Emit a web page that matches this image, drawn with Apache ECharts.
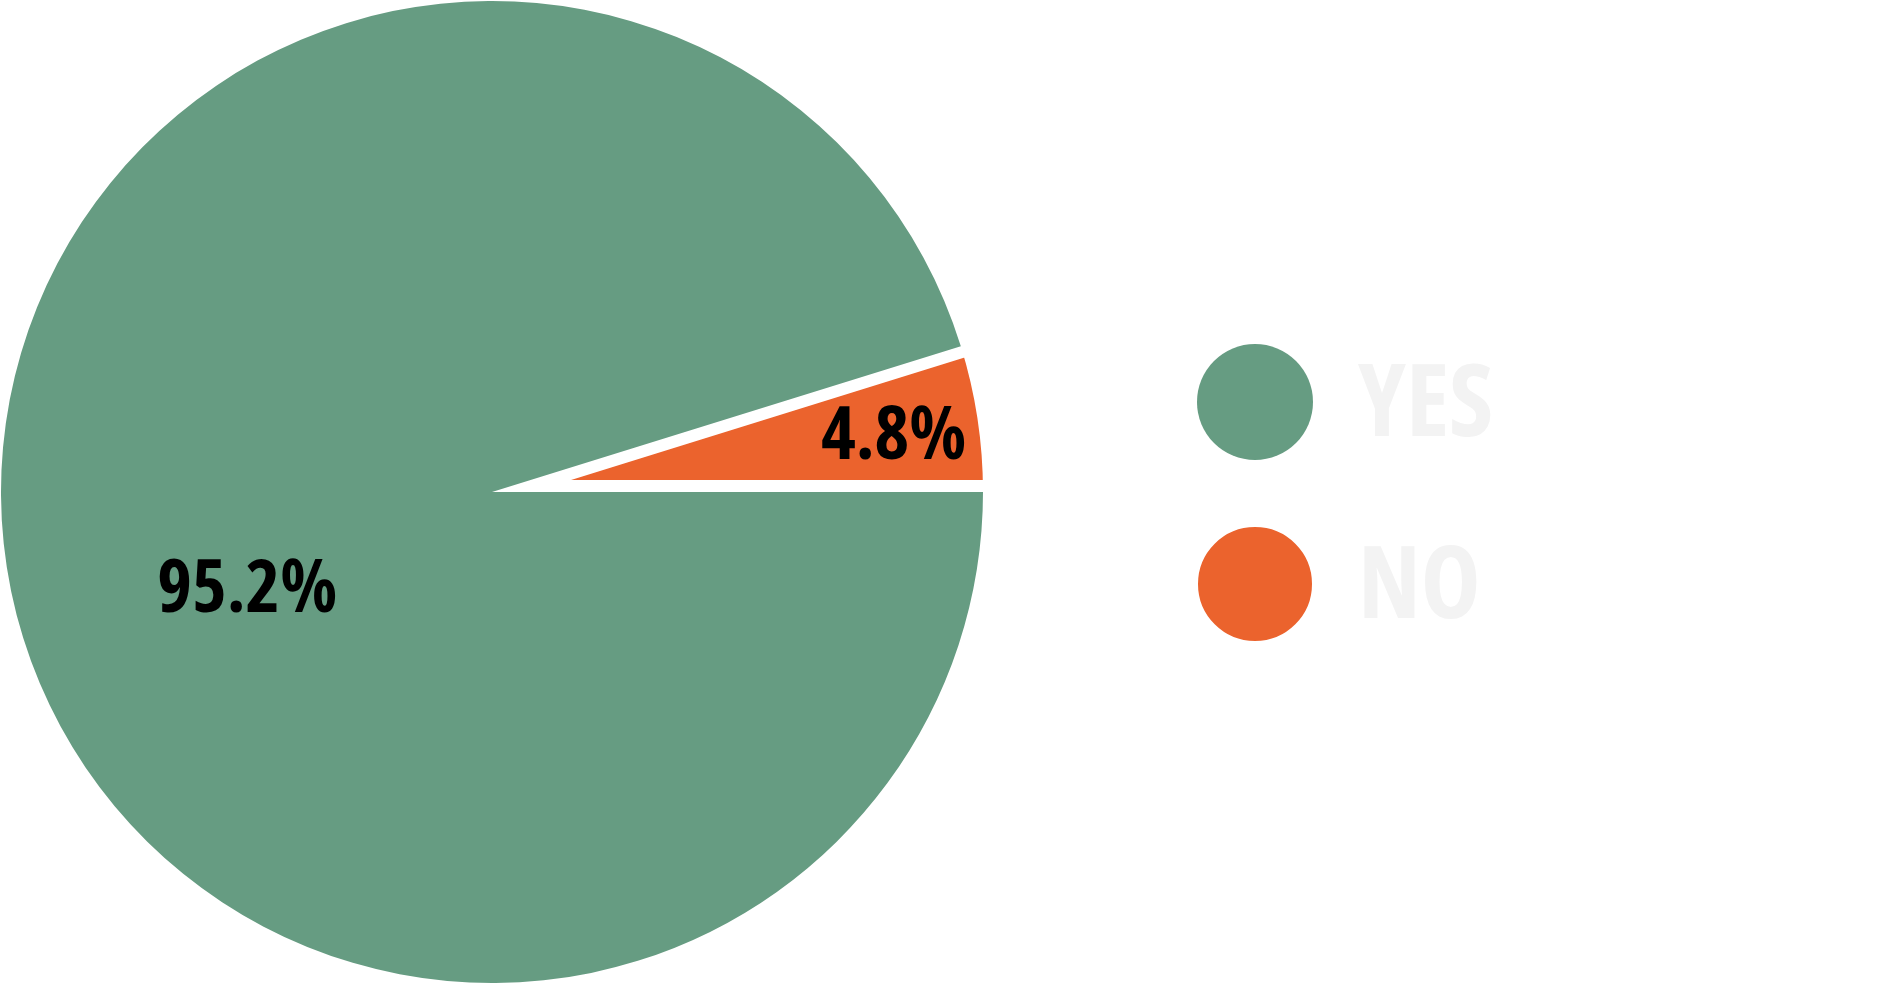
<!DOCTYPE html>
<html>
<head>
<meta charset="utf-8">
<script src="https://cdn.jsdelivr.net/npm/echarts@6/dist/echarts.min.js"></script>
<style>
html,body{margin:0;padding:0;background:#fff;}
#chart{width:1893px;height:984px;}
</style>
</head>
<body>
<div id="chart"></div>
<script>
// Data
const categories = ['YES', 'NO'];
const values = [95.2, 4.8];
const sliceColors = ['#669C82', '#EB632D'];

const LABEL_FONT = "'Open Sans', 'Roboto', sans-serif";
const STRETCH = 'extra-condensed';
const R = 491;
const GAP = 24;

// draw order: NO first, counter-clockwise from 3 o'clock
const order = [1, 0];

function items(visibleName, withBorder) {
  return order.map(i => {
    const visible = categories[i] === visibleName;
    return {
      name: categories[i],
      value: values[i],
      itemStyle: visible
        ? (withBorder ? { color: sliceColors[i], borderColor: '#ffffff', borderWidth: GAP }
                      : { color: sliceColors[i], borderWidth: 0 })
        : { color: 'transparent', borderWidth: 0 },
      label: { show: visible }
    };
  });
}

const labelStyle = {
  position: 'inside',
  formatter: '{c}%',
  color: '#000000',
  fontFamily: LABEL_FONT,
  fontStyle: STRETCH,
  fontWeight: 'bold',
  fontSize: 74
};

const chart = echarts.init(document.getElementById('chart'), null, { renderer: 'canvas' });
chart.setOption({
  animation: false,
  backgroundColor: '#ffffff',
  legend: {
    orient: 'vertical',
    left: 1196,
    top: 344,
    padding: 0,
    itemWidth: 116,
    itemHeight: 116,
    itemGap: 65,
    icon: 'circle',
    selectedMode: false,
    data: categories.map((c, i) => ({ name: c, itemStyle: { color: sliceColors[i] } })),
    formatter: name => '{t|' + name + '}',
    textStyle: {
      color: '#F3F3F3',
      fontFamily: LABEL_FONT,
      fontStyle: STRETCH,
      fontWeight: 'bold',
      fontSize: 101,
      padding: [0, 0, 0, 40],
      rich: {
        t: {
          color: '#F3F3F3',
          fontFamily: LABEL_FONT,
          fontStyle: STRETCH,
          fontWeight: 'bold',
          fontSize: 101,
          padding: [11, 0, 0, 0]
        }
      }
    }
  },
  series: [
    {
      // orange slice with white edges (underneath)
      type: 'pie',
      z: 1,
      silent: true,
      center: [492, 492],
      radius: [0, R + GAP / 2],
      startAngle: 0,
      clockwise: false,
      label: labelStyle,
      labelLine: { show: false },
      labelLayout: () => ({ dx: 150, dy: -16 }),
      data: items('NO', true)
    },
    {
      // green slice (on top)
      type: 'pie',
      z: 2,
      silent: true,
      center: [492, 492],
      radius: [0, R],
      startAngle: 0,
      clockwise: false,
      label: labelStyle,
      labelLine: { show: false },
      labelLayout: () => ({ dx: 1, dy: 62 }),
      data: items('YES', false)
    }
  ]
});
</script>
</body>
</html>
